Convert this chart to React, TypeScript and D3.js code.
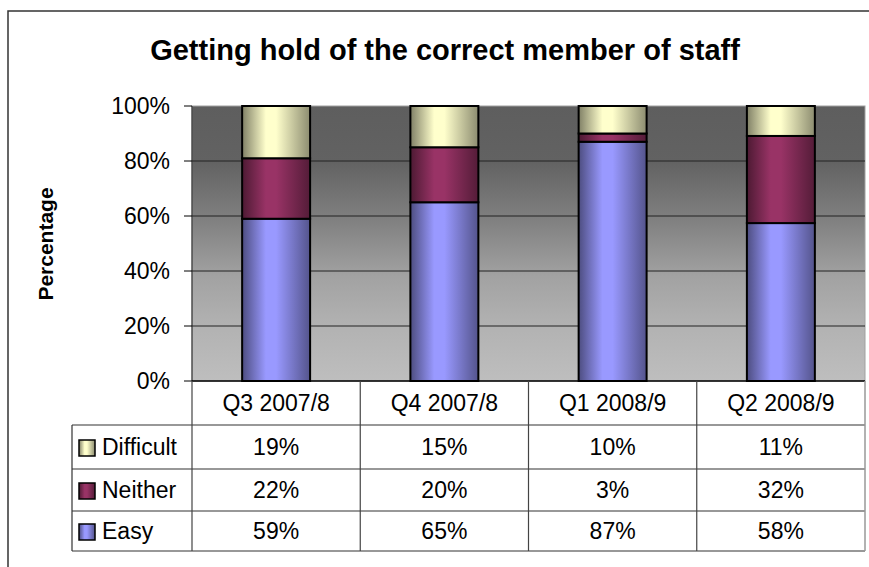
import React from "react";
import * as d3 from "d3";

const categories = ["Q3 2007/8", "Q4 2007/8", "Q1 2008/9", "Q2 2008/9"];
const easy = [59, 65, 87, 58];
const neither = [22, 20, 3, 32];
const difficult = [19, 15, 10, 11];
const yTicks = [0, 20, 40, 60, 80, 100];
const seriesNames = ["Easy", "Neither", "Difficult"];
const seriesValues = [easy, neither, difficult];
const seriesColors = ["#9999ff", "#993366", "#ffffcc"];

const W = 869;
const H = 567;
const plotL = 192;
const plotR = 865;
const plotT = 106;
const plotB = 381;
const tableL = 72;
const rowLines = [381, 425, 469, 511, 551];
const FONT = "'Liberation Sans', Arial, Helvetica, sans-serif";

export default function App() {
  const x = d3.scaleBand<string>().domain(categories).range([plotL, plotR]).paddingInner(0.596).paddingOuter(0.298);
  const cols = d3.scaleBand<string>().domain(categories).range([plotL, plotR]);
  const y = d3.scaleLinear().domain([0, 1]).range([plotB, plotT]);

  const stack = d3
    .stack<number>()
    .keys(d3.range(seriesNames.length) as any)
    .value((i: number, k: any) => seriesValues[k][i])
    .offset(d3.stackOffsetExpand);
  const stacked = stack(d3.range(categories.length));

  const tableRows = [2, 1, 0]; // Difficult, Neither, Easy

  return (
    <svg width={W} height={H} style={{ position: "absolute", left: 0, top: 0, background: "#fff" }} fontFamily={FONT}>
      <defs>
        <linearGradient id="bg" x1="0" y1="0" x2="0" y2="1">
          <stop offset="0" stopColor="#5e5e5e" />
          <stop offset="0.2" stopColor="#626262" />
          <stop offset="0.42" stopColor="#818181" />
          <stop offset="0.62" stopColor="#a2a2a2" />
          <stop offset="0.8" stopColor="#b2b2b2" />
          <stop offset="1" stopColor="#bebebe" />
        </linearGradient>
        {seriesColors.map((c, i) => {
          const dark = d3.interpolateRgb(c, "#000")(0.5);
          const dark2 = d3.interpolateRgb(c, "#000")(0.45);
          return (
            <linearGradient key={i} id={`g${i}`} x1="0" y1="0" x2="1" y2="0">
              <stop offset="0" stopColor={dark} />
              <stop offset="0.35" stopColor={c} />
              <stop offset="0.5" stopColor={c} />
              <stop offset="1" stopColor={dark2} />
            </linearGradient>
          );
        })}
      </defs>

      {/* outer frame */}
      <rect x={8} y={11} width={W} height={H} fill="#fff" stroke="#333" strokeWidth={1.5} />

      {/* title */}
      <text x={445} y={60} textAnchor="middle" fontSize={29} fontWeight="bold" fill="#000">
        Getting hold of the correct member of staff
      </text>

      {/* plot background */}
      <rect x={plotL} y={plotT} width={plotR - plotL} height={plotB - plotT} fill="url(#bg)" stroke="#a0a0a0" strokeWidth={1} />

      {/* gridlines */}
      {yTicks.slice(1, -1).map((t) => (
        <line key={t} x1={plotL} x2={plotR} y1={y(t / 100)} y2={y(t / 100)} stroke="#222" strokeWidth={1.2} />
      ))}

      {/* bars */}
      {stacked.map((s, si) =>
        s.map((d, ci) => (
          <rect
            key={`${si}-${ci}`}
            x={x(categories[ci])}
            y={y(d[1])}
            width={x.bandwidth()}
            height={y(d[0]) - y(d[1])}
            fill={`url(#g${si})`}
            stroke="#000"
            strokeWidth={2}
          />
        ))
      )}

      {/* y axis */}
      <line x1={plotL} x2={plotL} y1={plotT} y2={plotB} stroke="#222" strokeWidth={1} />
      {yTicks.map((t) => (
        <g key={t}>
          <line x1={184} x2={plotL} y1={y(t / 100)} y2={y(t / 100)} stroke="#000" strokeWidth={1} />
          <text x={170} y={y(t / 100) + 8} textAnchor="end" fontSize={23} fill="#000">
            {t}%
          </text>
        </g>
      ))}
      <line x1={plotL} x2={plotR} y1={plotB} y2={plotB} stroke="#000" strokeWidth={1.5} />

      {/* y axis title */}
      <text transform={`translate(53,244) rotate(-90)`} textAnchor="middle" fontSize={21} fontWeight="bold" fill="#000">
        Percentage
      </text>

      {/* data table */}
      {rowLines.slice(1).map((ry, i) => (
        <line key={i} x1={tableL} x2={plotR} y1={ry} y2={ry} stroke="#333" strokeWidth={1.2} />
      ))}
      <line x1={tableL} x2={tableL} y1={rowLines[1]} y2={rowLines[4]} stroke="#333" strokeWidth={1.2} />
      {categories.map((c) => (
        <line key={c} x1={cols(c)} x2={cols(c)} y1={plotB} y2={rowLines[4]} stroke="#444" strokeWidth={1.2} />
      ))}
      <line x1={plotR} x2={plotR} y1={plotB} y2={rowLines[4]} stroke="#999" strokeWidth={1.5} />

      {categories.map((c) => (
        <text key={c} x={(cols(c) as number) + cols.bandwidth() / 2} y={(rowLines[0] + rowLines[1]) / 2 + 8} textAnchor="middle" fontSize={23} fill="#000">
          {c}
        </text>
      ))}

      {tableRows.map((si, ri) => {
        const top = rowLines[ri + 1];
        const bot = rowLines[ri + 2];
        const cy = (top + bot) / 2;
        return (
          <g key={si}>
            <rect x={79} y={cy - 7} width={16} height={16} fill={`url(#g${si})`} stroke="#000" strokeWidth={1.5} />
            <text x={102} y={cy + 8} fontSize={23} fill="#000">
              {seriesNames[si]}
            </text>
            {categories.map((c, ci) => (
              <text key={c} x={(cols(c) as number) + cols.bandwidth() / 2} y={cy + 8} textAnchor="middle" fontSize={23} fill="#000">
                {seriesValues[si][ci]}%
              </text>
            ))}
          </g>
        );
      })}
    </svg>
  );
}
